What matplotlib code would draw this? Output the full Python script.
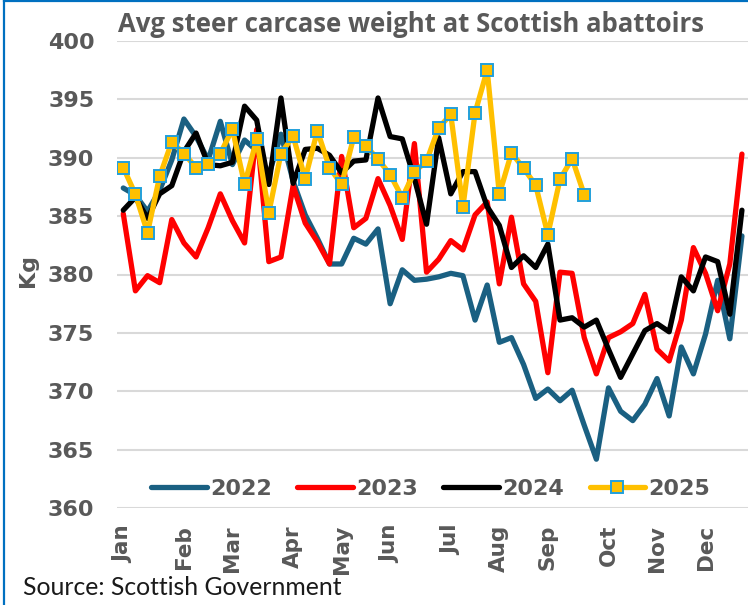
import numpy as np
import matplotlib
matplotlib.use("Agg")
import matplotlib.pyplot as plt
from matplotlib.lines import Line2D

# ---------------- data ----------------
title = "Avg steer carcase weight at Scottish abattoirs"
source = "Source: Scottish Government"
month_labels = ["Jan", "Feb", "Mar", "Apr", "May", "Jun", "Jul", "Aug", "Sep", "Oct", "Nov", "Dec"]
month_weeks = [0, 5, 9, 14, 18, 22, 27, 31, 35, 40, 44, 48]

w2022 = [387.4, 386.8, 385.4, 387.2, 389.8, 393.3, 391.8, 389.8, 393.1, 389.4,
         391.5, 390.6, 388.5, 392.0, 388.0, 385.1, 383.1, 380.9, 380.9, 383.1,
         382.6, 383.9, 377.5, 380.4, 379.5, 379.6, 379.8, 380.1, 379.9, 376.1,
         379.1, 374.2, 374.6, 372.3, 369.4, 370.2, 369.2, 370.1, 367.1, 364.2,
         370.3, 368.3, 367.5, 368.9, 371.1, 367.9, 373.8, 371.5, 374.9, 379.5,
         374.5, 383.3]
w2023 = [385.2, 378.6, 379.9, 379.3, 384.7, 382.7, 381.5, 384.0, 386.9, 384.6,
         382.7, 392.4, 381.1, 381.5, 387.6, 384.4, 382.8, 380.9, 390.1, 384.0,
         384.8, 388.2, 385.9, 383.0, 391.2, 380.2, 381.3, 382.9, 382.1, 385.1,
         386.2, 379.2, 384.9, 379.2, 377.7, 371.6, 380.2, 380.1, 374.6, 371.5,
         374.6, 375.1, 375.8, 378.3, 373.6, 372.6, 376.1, 382.3, 380.1, 376.9,
         380.9, 390.3]
w2024 = [385.5, 386.6, 384.8, 386.9, 387.6, 390.5, 392.1, 389.4, 389.3, 389.6,
         394.4, 393.2, 387.7, 395.1, 387.8, 390.7, 390.8, 390.2, 388.7, 389.7,
         389.8, 395.1, 391.8, 391.6, 388.2, 384.3, 391.7, 386.9, 388.8, 388.8,
         385.8, 384.2, 380.6, 381.6, 380.6, 382.6, 376.1, 376.3, 375.5, 376.1,
         373.6, 371.2, 373.2, 375.2, 375.8, 375.1, 379.8, 378.6, 381.5, 381.1,
         376.6, 385.5]
w2025 = [389.15, 386.86, 383.58, 388.4, 391.34, 390.35, 389.15, 389.43, 390.35, 392.43,
         387.72, 391.55, 385.29, 390.35, 391.83, 388.2, 392.3, 389.15, 387.7, 391.77,
         391.0, 389.86, 388.55, 386.58, 388.77, 389.7, 392.55, 393.69, 385.77, 393.83,
         397.49, 386.86, 390.4, 389.1, 387.63, 383.41, 388.14, 389.92, 386.83]

series_names = ["2022", "2023", "2024", "2025"]
series_values = [w2022, w2023, w2024, w2025]
series_colors = ["#1A6082", "#FF0000", "#000000", "#FFC000"]

y_ticks = [360, 365, 370, 375, 380, 385, 390, 395, 400]

# ---------------- figure ----------------
W, H = 748, 605
fig = plt.figure(figsize=(W / 100, H / 100), dpi=100)
ax_left, ax_right = 117.2, 748.0
ax_top, ax_bottom = 40.7, 508.3
ax = fig.add_axes([ax_left / W, 1 - ax_bottom / H,
                   (ax_right - ax_left) / W, (ax_bottom - ax_top) / H])

gray = "#595959"

for name, vals, col in zip(series_names, series_values, series_colors):
    x = np.arange(len(vals))
    if name == "2025":
        ax.plot(x, vals, color=col, lw=3.8, marker="s", ms=8.8,
                markerfacecolor="#FFC000", markeredgecolor="#22A0DA",
                markeredgewidth=1.4, label=name, solid_joinstyle="round",
                solid_capstyle="round", zorder=5)
    else:
        ax.plot(x, vals, color=col, lw=3.8, label=name,
                solid_joinstyle="round", solid_capstyle="round", zorder=3)

ax.set_xlim(-0.5, 51.5)
ax.set_ylim(360, 400)
ax.set_yticks(y_ticks)
ax.set_xticks(month_weeks)
ax.set_xticklabels(month_labels, rotation=90, fontsize=15.5,
                   fontweight="bold", color=gray, family="DejaVu Sans")
ax.tick_params(axis="x", length=0, pad=12)
ax.tick_params(axis="y", length=0, pad=16.5, labelsize=16, labelcolor=gray)
for lab in ax.get_yticklabels():
    lab.set_fontweight("bold")
ax.grid(axis="y", color="#D9D9D9", lw=1.5, zorder=0)
ax.set_axisbelow(True)
for s in ax.spines.values():
    s.set_visible(False)
ax.patch.set_alpha(0)

leg = ax.legend(loc="center", bbox_to_anchor=(0.497, 0.041), ncol=4,
                frameon=False, handlelength=2.5, handletextpad=0.15,
                columnspacing=1.15, borderaxespad=0,
                prop={"weight": "bold", "size": 16})
for t in leg.get_texts():
    t.set_color(gray)

fig.text(411.5 / W, 1 - 31.7 / H, title, ha="center", va="baseline",
         fontsize=18.5, fontweight="bold", color=gray, family="Open Sans")
fig.text(28 / W, 1 - 270 / H, "Kg", rotation=90, ha="center", va="center",
         fontsize=16, fontweight="bold", color=gray)
fig.text(23 / W, 1 - 595 / H, source, ha="left", va="baseline",
         fontsize=17.8, color="#1a1a1a", family="Lato")

# border (top and left edges of the chart frame)
fig.add_artist(Line2D([3.6 / W, 3.6 / W], [0, 1 - 1.2 / H], color="#0070C0",
                      lw=1.6, transform=fig.transFigure))
fig.add_artist(Line2D([3.6 / W, 1], [1 - 1.2 / H, 1 - 1.2 / H], color="#0070C0",
                      lw=1.6, transform=fig.transFigure))

fig.savefig("out.png", dpi=100)
